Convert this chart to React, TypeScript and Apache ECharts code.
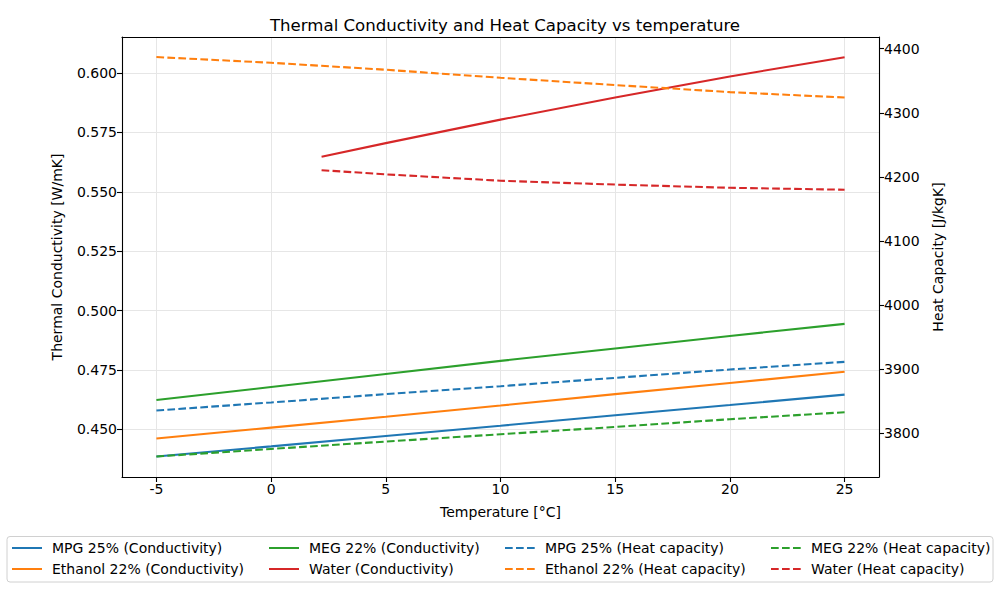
import React, { useEffect, useRef } from "react";
import * as echarts from "echarts";

const temps = [-5, 0, 5, 10, 15, 20, 25];
const waterTemps = [2.2, 5, 10, 15, 20, 25];

const mpgCond = [0.4385, 0.4428, 0.4472, 0.4515, 0.4559, 0.4602, 0.4646];
const ethanolCond = [0.4461, 0.4507, 0.4553, 0.46, 0.4648, 0.4695, 0.4742];
const megCond = [0.4623, 0.4678, 0.4733, 0.4788, 0.484, 0.4893, 0.4944];
const waterCond = [0.5648, 0.5705, 0.5804, 0.5897, 0.5986, 0.6067];

const mpgHC = [3835.5, 3848, 3861, 3873.4, 3886.4, 3899.5, 3911.4];
const ethanolHC = [4387, 4378.1, 4367.2, 4354.7, 4343.3, 4332.3, 4323.9];
const megHC = [3763.6, 3775.5, 3787, 3798.4, 3809.8, 3821.9, 3832.8];
const waterHC = [4210.5, 4204, 4194, 4188, 4183, 4180];

const xTicks = [-5, 0, 5, 10, 15, 20, 25];
const leftTicks = [0.45, 0.475, 0.5, 0.525, 0.55, 0.575, 0.6];
const rightTicks = [3800, 3900, 4000, 4100, 4200, 4300, 4400];

const COLORS = { blue: "#1f77b4", orange: "#ff7f0e", green: "#2ca02c", red: "#d62728" };
const FONT = "DejaVu Sans";
const LW = 2.08;
const DASH = [7.7, 3.3];

const zip = (xs: number[], ys: number[]) => xs.map((x, i) => [x, ys[i]]);

function mkSeries(name: string, xs: number[], ys: number[], color: string, dashed: boolean, yAxisIndex: number) {
  return {
    name,
    type: "line",
    xAxisIndex: 0,
    yAxisIndex,
    data: zip(xs, ys),
    showSymbol: false,
    symbol: "none",
    color,
    lineStyle: { color, width: LW, type: dashed ? DASH : "solid" },
    itemStyle: { color },
  };
}

export default function App() {
  const ref = useRef<HTMLDivElement>(null);
  useEffect(() => {
    const chart = echarts.init(ref.current!, null, { renderer: "svg" });
    const tickStyle = { show: true, length: 5, lineStyle: { color: "#000", width: 1.1 } };
    const labelStyle = { color: "#000", fontSize: 14, fontFamily: FONT, margin: 5 };
    const nameStyle = { color: "#000", fontSize: 14, fontFamily: FONT };
    const legendBase = {
      orient: "vertical",
      top: 541,
      itemGap: 7,
      itemWidth: 30,
      itemHeight: 14,
      padding: 0,
      itemStyle: { color: "transparent", borderWidth: 0, opacity: 0 },
      textStyle: { color: "#000", fontSize: 14, fontFamily: FONT, padding: [0, 0, 0, 5] },
    };
    const option: any = {
      animation: false,
      backgroundColor: "#fff",
      title: {
        text: "Thermal Conductivity and Heat Capacity vs temperature",
        left: 500,
        textAlign: "center",
        top: 12,
        textStyle: { color: "#000", fontSize: 16.6, fontWeight: "normal", fontFamily: FONT },
      },
      grid: { left: 122, right: 121, top: 37, bottom: 123, containLabel: false },
      xAxis: [
        {
          type: "value",
          min: -6.5,
          max: 26.5,
          name: "Temperature [°C]",
          nameLocation: "middle",
          nameGap: 28,
          nameTextStyle: nameStyle,
          axisLine: { show: true, onZero: false, lineStyle: { color: "#000", width: 1.1 } },
          axisTick: { ...tickStyle, customValues: xTicks },
          axisLabel: { ...labelStyle, customValues: xTicks },
          splitLine: { show: true, lineStyle: { color: "#e6e6e6", width: 1 } },
        },
        {
          type: "value",
          position: "top",
          min: -6.5,
          max: 26.5,
          axisLine: { show: true, onZero: false, lineStyle: { color: "#000", width: 1.1 } },
          axisTick: { show: false },
          axisLabel: { show: false },
          splitLine: { show: false },
        },
      ],
      yAxis: [
        {
          type: "value",
          position: "left",
          min: 0.4299,
          max: 0.6152,
          name: "Thermal Conductivity [W/mK]",
          nameLocation: "middle",
          nameGap: 58,
          nameTextStyle: nameStyle,
          axisLine: { show: true, onZero: false, lineStyle: { color: "#000", width: 1.1 } },
          axisTick: { ...tickStyle, customValues: leftTicks },
          axisLabel: { ...labelStyle, customValues: leftTicks, formatter: (v: number) => v.toFixed(3) },
          splitLine: { show: true, lineStyle: { color: "#e6e6e6", width: 1 } },
        },
        {
          type: "value",
          position: "right",
          min: 3731.7,
          max: 4418.3,
          name: "Heat Capacity [J/kgK]",
          nameLocation: "middle",
          nameGap: 47,
          nameTextStyle: nameStyle,
          axisLine: { show: true, onZero: false, lineStyle: { color: "#000", width: 1.1 } },
          axisTick: { ...tickStyle, customValues: rightTicks },
          axisLabel: { ...labelStyle, customValues: rightTicks, formatter: (v: number) => String(Math.round(v)) },
          splitLine: { show: false },
        },
      ],
      legend: [
        { ...legendBase, left: 11, data: ["MPG 25% (Conductivity)", "Ethanol 22% (Conductivity)"] },
        { ...legendBase, left: 268, data: ["MEG 22% (Conductivity)", "Water (Conductivity)"] },
        { ...legendBase, left: 504, data: ["MPG 25% (Heat capacity)", "Ethanol 22% (Heat capacity)"] },
        { ...legendBase, left: 770, data: ["MEG 22% (Heat capacity)", "Water (Heat capacity)"] },
      ],
      graphic: [
        {
          type: "rect",
          z: -1,
          shape: { x: 7, y: 536.5, width: 986, height: 45.5, r: 3 },
          style: { fill: "#fff", stroke: "#d0d0d0", lineWidth: 1 },
        },
      ],
      series: [
        mkSeries("MPG 25% (Conductivity)", temps, mpgCond, COLORS.blue, false, 0),
        mkSeries("Ethanol 22% (Conductivity)", temps, ethanolCond, COLORS.orange, false, 0),
        mkSeries("MEG 22% (Conductivity)", temps, megCond, COLORS.green, false, 0),
        mkSeries("Water (Conductivity)", waterTemps, waterCond, COLORS.red, false, 0),
        mkSeries("MPG 25% (Heat capacity)", temps, mpgHC, COLORS.blue, true, 1),
        mkSeries("Ethanol 22% (Heat capacity)", temps, ethanolHC, COLORS.orange, true, 1),
        mkSeries("MEG 22% (Heat capacity)", temps, megHC, COLORS.green, true, 1),
        mkSeries("Water (Heat capacity)", waterTemps, waterHC, COLORS.red, true, 1),
      ],
    };
    chart.setOption(option);
    return () => chart.dispose();
  }, []);
  return <div ref={ref} style={{ position: "fixed", left: 0, top: 0, width: 1000, height: 600 }} />;
}
